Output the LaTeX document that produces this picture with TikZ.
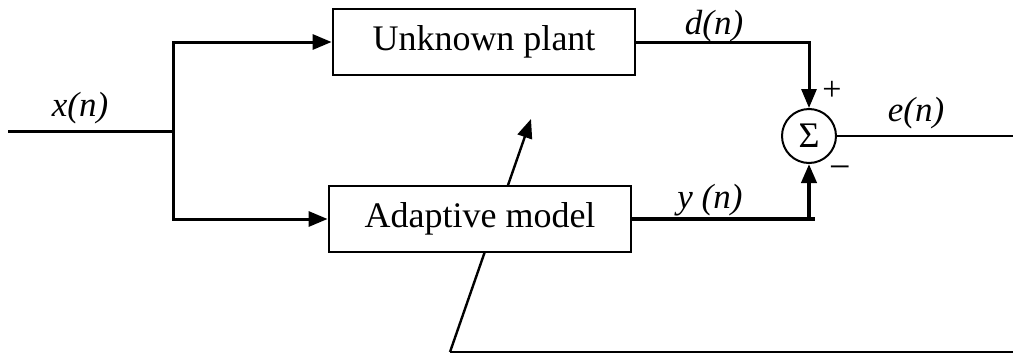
\documentclass[tikz,border=0pt]{standalone}
\usepackage{fontspec}
\setmainfont{Liberation Serif}
\usetikzlibrary{arrows.meta, positioning, backgrounds}
\tikzset{box/.style={rectangle,draw,line width=1.4pt,fill=white,minimum width=151pt,minimum height=33pt,inner sep=3pt},
sum/.style={circle,draw,line width=1pt,minimum size=27pt,inner sep=0pt},
line/.style={line width=1.5pt,-{Triangle[length=9.5pt,width=7.5pt]}},
wire/.style={line width=1.5pt},
lbl/.style={font=\fontsize{17.5}{20}\selectfont\itshape}}

\begin{document}
\begin{tikzpicture}[x=0.5pt,y=-0.5pt,font=\fontsize{18}{21}\selectfont]
\useasboundingbox (0,0) rectangle (1013,354);
\node[box] (plant) at (484,42) {Unknown plant};
\node[box] (model) at (480,219) {Adaptive model};
\node[sum] (sum) at (809,136) {Σ};
\coordinate (in) at (8,131);
\coordinate (split) at (173,131);
\coordinate (out) at (1013,132);
\coordinate (fb) at (450,352);
\coordinate (fbend) at (1013,352);
\coordinate (tip) at (531,119);
% signal paths
\draw[wire] (in) -- (split);
\draw[line] (split) |- (plant.west);
\draw[line] (split) |- (model.west);
\draw[line] (plant.east) -| (sum.north);
\draw[line,line width=2pt] (model.east) -| (sum.south);
\draw[line width=2pt] (model.east -| sum.south) -- ++(6,0);
\draw[line width=1pt] (sum.east) -- (sum.east -| out);
% error fed back to the adaptive model
\draw[line width=1pt] (fbend) -- (fb);
\begin{scope}[on background layer]
\draw[line width=1.2pt,-{Triangle[length=9.5pt,width=7.5pt]}] (fb) -- (tip);
\end{scope}
% labels
\node[lbl] (xlbl) at (80,108) {x(n)};
\node[lbl] (dlbl) at (714,26) {d(n)};
\node[lbl] (ylbl) at (710,200) {y (n)};
\node[lbl] (elbl) at (916,113) {e(n)};
\node[font=\fontsize{17}{19}\selectfont] (plus) at (832,91) {+};
\node[font=\fontsize{19}{21}\selectfont] (minus) at (840,173) {−};
\end{tikzpicture}
\end{document}
